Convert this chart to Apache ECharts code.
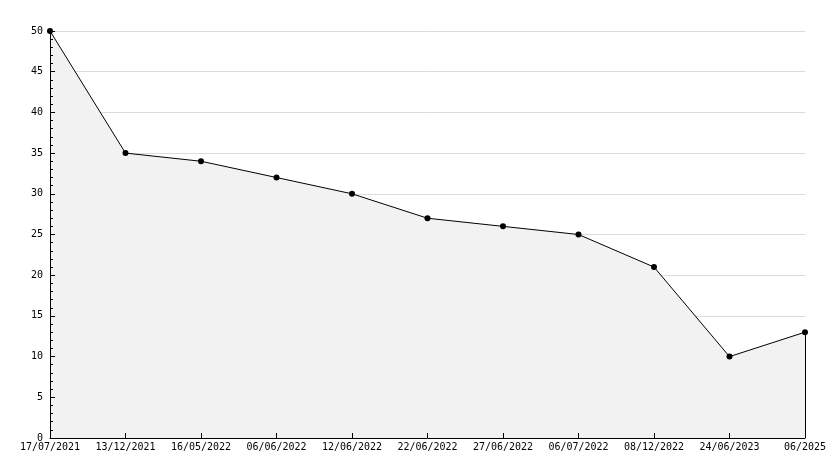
<!DOCTYPE html>
<html><head><meta charset="utf-8">
<script src="https://cdn.jsdelivr.net/npm/echarts@6/dist/echarts.min.js"></script>
<style>html,body{margin:0;padding:0;background:#fff}#c{width:834px;height:468px}</style>
</head><body><div id="c"></div>
<script>
var categories = ['17/07/2021','13/12/2021','16/05/2022','06/06/2022','12/06/2022','22/06/2022','27/06/2022','06/07/2022','08/12/2022','24/06/2023','06/2025'];
var values = [50,35,34,32,30,27,26,25,21,10,13];
var yTicks = {min:0, max:50, interval:5};
var font = 'DejaVu Sans Mono';
var chart = echarts.init(document.getElementById('c'));
var last = categories.length - 1;
chart.setOption({
  animation:false,
  backgroundColor:'#fff',
  grid:{left:50,right:29,top:31,bottom:30,containLabel:false},
  xAxis:{type:'category',data:categories,boundaryGap:false,z:5,
    axisLine:{lineStyle:{color:'#000',width:1}},
    axisTick:{show:true,inside:true,length:5,lineStyle:{color:'#000'},alignWithLabel:true},
    axisLabel:{color:'#000',fontFamily:font,fontSize:10,margin:4,interval:0},
    splitLine:{show:false}},
  yAxis:[
    {type:'value',min:yTicks.min,max:yTicks.max,interval:yTicks.interval,z:0,
      axisLine:{show:false},axisTick:{show:false},axisLabel:{show:false},
      splitLine:{show:true,lineStyle:{color:'#dcdcdc',width:1}}},
    {type:'value',position:'left',min:yTicks.min,max:yTicks.max,interval:yTicks.interval,z:5,
      axisLine:{show:true,lineStyle:{color:'#000',width:1}},
      axisTick:{show:true,inside:true,length:5,lineStyle:{color:'#000'}},
      minorTick:{show:true,splitNumber:5,length:3,lineStyle:{color:'#000'}},
      axisLabel:{color:'#000',fontFamily:font,fontSize:10,margin:7},
      splitLine:{show:false}}
  ],
  series:[{type:'line',data:values,z:2,yAxisIndex:0,
    lineStyle:{color:'#000',width:1},
    itemStyle:{color:'#000'},
    symbol:'circle',symbolSize:6,
    areaStyle:{color:'#f2f2f2',opacity:1},
    markLine:{silent:true,symbol:'none',label:{show:false},
      lineStyle:{color:'#000',width:1,type:'solid'},
      data:[[{coord:[last,0]},{coord:[last,values[last]]}]]}
  }]
});
</script></body></html>
